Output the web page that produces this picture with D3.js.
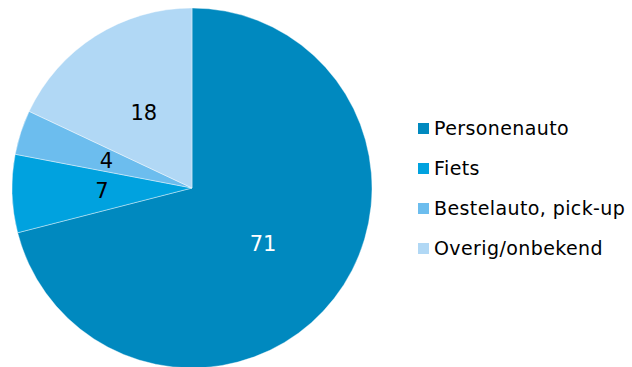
<!DOCTYPE html>
<html>
<head>
<meta charset="utf-8">
<script src="https://cdn.jsdelivr.net/npm/d3@7"></script>
<style>
  body { margin: 0; background: #fff; }
  svg text { font-family: "DejaVu Sans", sans-serif; }
</style>
</head>
<body>
<div id="chartContainer"></div>
<script>
// Chart data
const categories = ["Personenauto", "Fiets", "Bestelauto, pick-up", "Overig/onbekend"];
const values = [71, 7, 4, 18];
const colors = ["#0089bf", "#00a2df", "#6cbdee", "#b1d8f5"];
const labelColors = ["#fff", "#000", "#000", "#000"];

const width = 632;
const height = 367;
const cx = 192, cy = 188, radius = 180;

const svg = d3.select("#chartContainer")
  .append("svg")
  .attr("width", width)
  .attr("height", height);

const pie = d3.pie().sort(null).value(d => d.value);
const arcs = pie(categories.map((c, i) => ({ name: c, value: values[i], i: i })));

const arc = d3.arc().innerRadius(0).outerRadius(radius);
const labelArc = d3.arc().innerRadius(radius / 2).outerRadius(radius / 2);

const g = svg.append("g").attr("transform", `translate(${cx}, ${cy})`);

// Slices
g.selectAll("path")
  .data(arcs)
  .enter()
  .append("path")
  .attr("d", arc)
  .attr("fill", d => colors[d.data.i])
  .attr("stroke", "#fff")
  .attr("stroke-width", 0.4);

// Value labels
g.selectAll("text")
  .data(arcs)
  .enter()
  .append("text")
  .attr("transform", d => `translate(${labelArc.centroid(d)})`)
  .attr("text-anchor", "middle")
  .attr("dy", "0.36em")
  .attr("font-size", 21)
  .attr("fill", d => labelColors[d.data.i])
  .text(d => d.data.value);

// Legend
const legend = svg.append("g").attr("transform", "translate(418, 135)");
const rows = legend.selectAll("g")
  .data(categories)
  .enter()
  .append("g")
  .attr("transform", (d, i) => `translate(0, ${i * 40})`);

rows.append("rect")
  .attr("x", 0)
  .attr("y", -12)
  .attr("width", 11)
  .attr("height", 11)
  .attr("fill", (d, i) => colors[i]);

rows.append("text")
  .attr("x", 16)
  .attr("y", 0)
  .attr("font-size", 19)
  .attr("letter-spacing", 0.4)
  .attr("fill", "#000")
  .text(d => d);
</script>
</body>
</html>
